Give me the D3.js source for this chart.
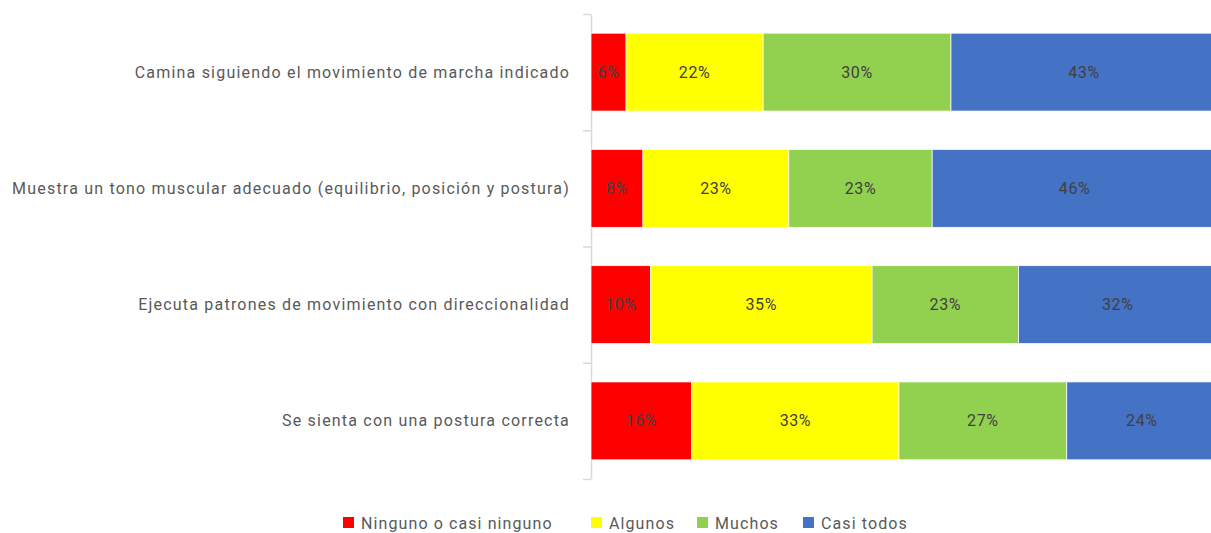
<!DOCTYPE html>
<html><head><meta charset="utf-8">
<script src="https://cdn.jsdelivr.net/npm/d3@7"></script>
<style>body{margin:0;background:#fff;} svg{display:block;font-family:Roboto, "Noto Sans", sans-serif;}</style>
</head><body>
<svg id="c" width="1211" height="533"></svg>
<script>
const categories = [
  "Camina siguiendo el movimiento de marcha indicado",
  "Muestra un tono muscular adecuado (equilibrio, posición y postura)",
  "Ejecuta patrones de movimiento con direccionalidad",
  "Se sienta con una postura correcta"
];
const seriesNames = ["Ninguno o casi ninguno", "Algunos", "Muchos", "Casi todos"];
const seriesColors = ["#ff0000", "#ffff00", "#92d050", "#4472c4"];
const ninguno = [5.6, 8.3, 9.5, 16.1];
const algunos = [21.9, 23.3, 35.4, 33.1];
const muchos = [30.0, 22.9, 23.4, 26.8];
const casiTodos = [42.5, 45.5, 31.7, 24.0];

const rows = categories.map((c, i) => ({cat: c, s0: ninguno[i], s1: algunos[i], s2: muchos[i], s3: casiTodos[i]}));
const keys = ["s0","s1","s2","s3"];
const stack = d3.stack().keys(keys)(rows);

const svg = d3.select("#c");
const x = d3.scaleLinear().domain([0, 100]).range([591, 1217]);
const y = d3.scaleBand().domain(categories).range([14, 479]).paddingInner(0.33).paddingOuter(0.165);

// axis
const ax = svg.append("g").attr("transform", "translate(591,0)")
  .call(d3.axisLeft(y).tickSize(0).tickFormat(""));
ax.select(".domain").attr("stroke", "#d9d9d9").attr("stroke-width", 1.5);
svg.append("g").selectAll("line").data(d3.range(categories.length + 1)).join("line")
  .attr("x1", 583).attr("x2", 591)
  .attr("y1", i => 14.5 + i * (465 / categories.length)).attr("y2", i => 14.5 + i * (465 / categories.length))
  .attr("stroke", "#d9d9d9").attr("stroke-width", 1.5);

// category labels
svg.append("g").selectAll("text").data(categories).join("text")
  .attr("x", 570).attr("y", d => y(d) + y.bandwidth() / 2)
  .attr("text-anchor", "end").attr("dominant-baseline", "central")
  .attr("fill", "#595959").style("font-size", "16px").style("letter-spacing", "1.2px")
  .text(d => d);

// bars
const g = svg.append("g");
stack.forEach((layer, li) => {
  g.append("g").selectAll("rect").data(layer).join("rect")
    .attr("x", d => x(d[0])).attr("width", d => x(d[1]) - x(d[0]))
    .attr("y", d => y(d.data.cat)).attr("height", y.bandwidth())
    .attr("fill", seriesColors[li]).attr("stroke", "#ffffff").attr("stroke-width", 0.75);
  g.append("g").selectAll("text").data(layer).join("text")
    .attr("x", d => (x(d[0]) + x(d[1])) / 2).attr("y", d => y(d.data.cat) + y.bandwidth() / 2)
    .attr("text-anchor", "middle").attr("dominant-baseline", "central")
    .attr("fill", "#404040").style("font-size", "16px").style("letter-spacing", "0.6px")
    .text(d => Math.round(d[1] - d[0]) + "%");
});

// legend
const legendX = [343, 591, 697, 803];
const leg = svg.append("g");
seriesNames.forEach((n, i) => {
  leg.append("rect").attr("x", legendX[i]).attr("y", 517).attr("width", 11).attr("height", 11).attr("fill", seriesColors[i]);
  leg.append("text").attr("x", legendX[i] + 18).attr("y", 523).attr("dominant-baseline", "central")
    .attr("fill", "#595959").style("font-size", "16px").style("letter-spacing", "1.1px").text(n);
});
</script>
</body></html>
